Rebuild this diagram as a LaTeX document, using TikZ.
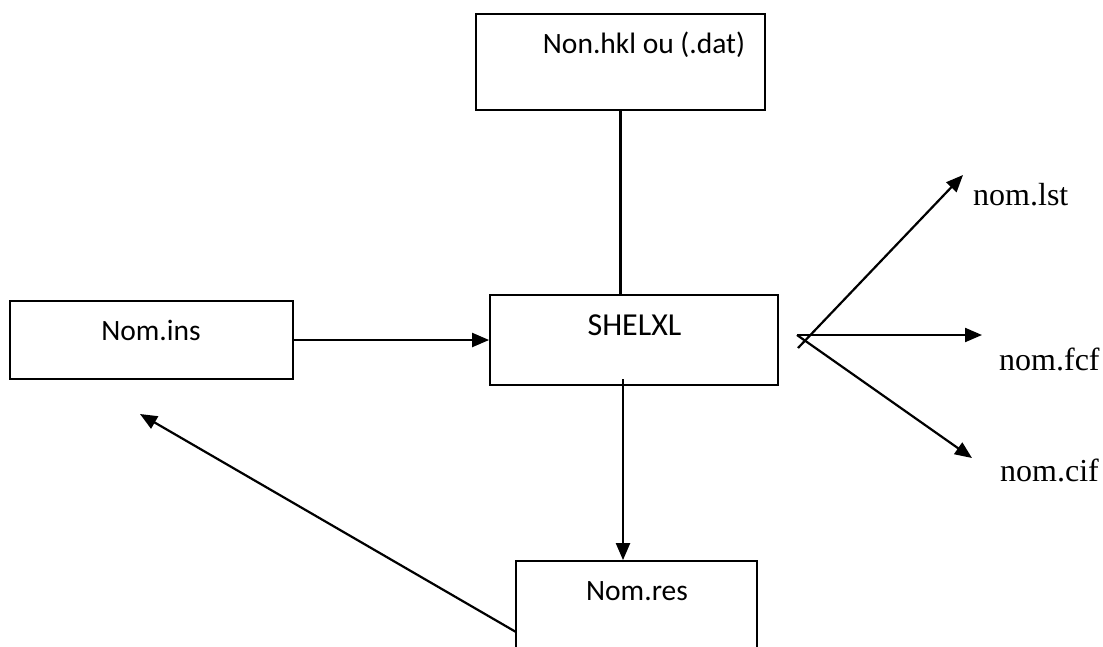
\documentclass[tikz,border=0pt]{standalone}
\usepackage{fontspec}
\setmainfont{Liberation Serif}
\newfontfamily\calib{Carlito}
\usetikzlibrary{arrows.meta}
\begin{document}
\begin{tikzpicture}[x=1pt,y=-1pt,
  box/.style={draw,line width=1.8pt,inner sep=0pt},
  boxtext/.style={font=\calib\fontsize{29.5}{34}\selectfont,anchor=base,inner sep=0pt},
  bigtext/.style={font=\calib\fontsize{32}{36}\selectfont,anchor=base,inner sep=0pt},
  outtext/.style={font=\fontsize{32}{36}\selectfont,anchor=base west,inner sep=0pt},
  conn/.style={line width=2.2pt},
  arr/.style={conn,-{Triangle[length=17pt,width=14pt]}}]
\useasboundingbox (0,0) rectangle (1103,646);
% boxes
\node[box,minimum width=289pt,minimum height=96pt] (hkl) at (620.5,62) {};
\node[box,minimum width=288pt,minimum height=90pt] (shelxl) at (634,340) {};
\node[box,minimum width=283pt,minimum height=78pt] (ins) at (151.5,340) {};
\node[box,minimum width=241pt,minimum height=100pt] (res) at (636.5,611) {};
% texts
\node[boxtext] (hklt) at (644,53) {Non.hkl ou (.dat)};
\node[bigtext] (shelxlt) at (634.5,335) {SHELXL};
\node[boxtext] (inst) at (151,340) {Nom.ins};
\node[boxtext] (rest) at (637,600) {Nom.res};
\node[outtext] (lst) at (973,205) {nom.lst};
\node[outtext] (fcf) at (999,370) {nom.fcf};
\node[outtext] (cif) at (1000,481) {nom.cif};
% helper points
\coordinate (sb) at (623,379);
\coordinate (rl) at (516,632);
\coordinate (it) at (140,414);
\coordinate (j) at (797,335);
\coordinate (jl) at (798,348);
\coordinate (tl) at (963,175);
\coordinate (tf) at (982,335);
\coordinate (tc) at (972,458);
% connectors
\draw[conn] (hkl.south) -- (hkl.south |- shelxl.north);
\draw[arr] (ins.east) -- (ins.east -| shelxl.west);
\draw[arr] (sb) -- (sb |- res.north);
\draw[arr] (rl) -- (it);
\draw[arr] (jl) -- (tl);
\draw[arr] (j) -- (tf);
\draw[arr] (j) -- (tc);
\end{tikzpicture}
\end{document}
